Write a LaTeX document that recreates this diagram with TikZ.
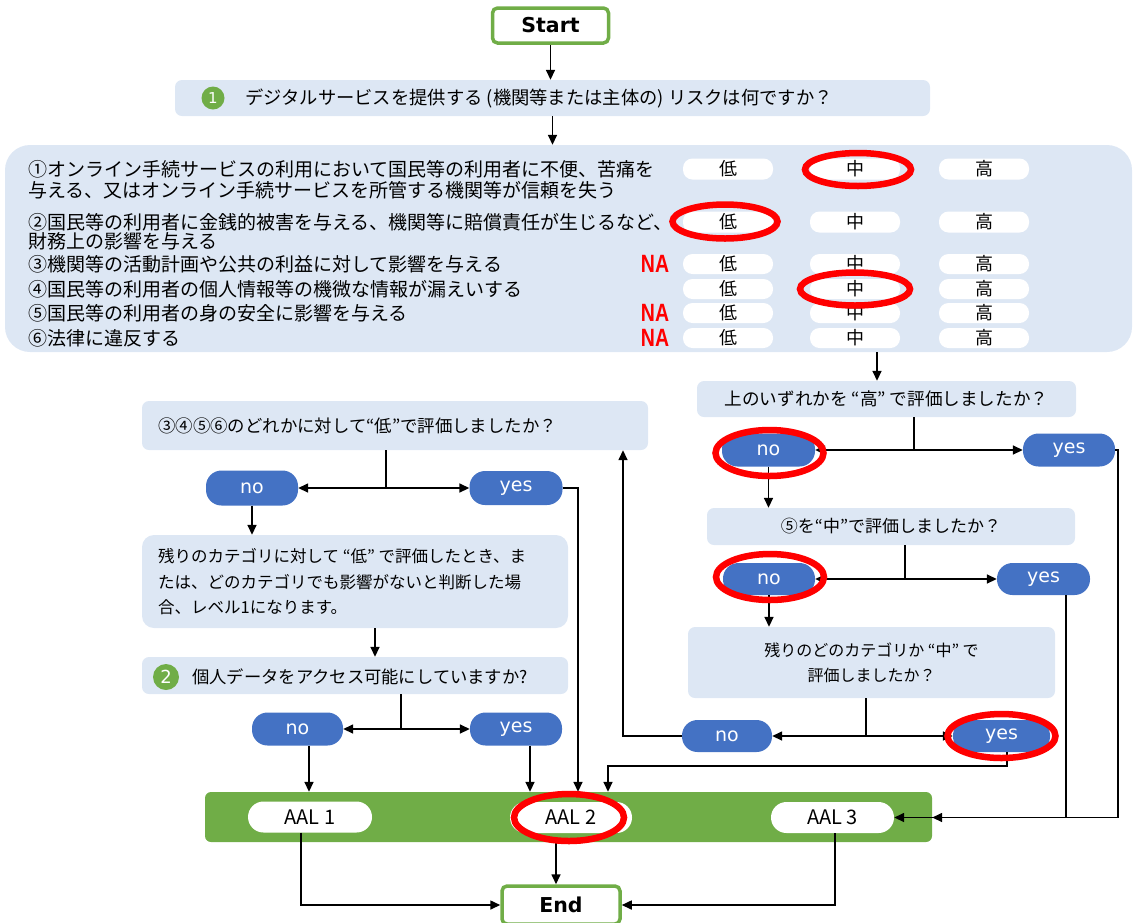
\documentclass[tikz,border=0pt]{standalone}
\usepackage{fontspec}
\usetikzlibrary{arrows.meta,shapes.geometric,calc}
\newfontfamily\jp{Noto Sans CJK JP}
\newfontfamily\dv{DejaVu Sans}
\newfontfamily\lib{Liberation Sans}
\definecolor{lb}{HTML}{DDE7F4}
\definecolor{bl}{HTML}{4472C4}
\definecolor{gr}{HTML}{70AD47}
\definecolor{rd}{HTML}{FF0000}
\begin{document}
\begin{tikzpicture}[x=1pt,y=-1pt,
  box/.style={fill=lb, rounded corners=7pt, inner sep=0pt},
  pill/.style={fill=bl, rounded corners=15.5pt, inner sep=0pt, text=white, font=\dv\fontsize{19}{19}\selectfont},
  wpill/.style={fill=white, rounded corners=9.5pt, inner sep=0pt, minimum width=90pt, font=\jp\fontsize{18}{18}\selectfont},
  aal/.style={fill=white, rounded corners=15.5pt, inner sep=0pt, minimum height=31pt, font=\jp\fontsize{20}{20}\selectfont},
  redell/.style={draw=rd, line width=6.5pt, ellipse, inner sep=0pt},
  term/.style={draw=gr, line width=3.5pt, fill=white, rounded corners=5pt, inner sep=0pt, font=\dv\bfseries\fontsize{20.5}{20.5}\selectfont},
  jt/.style={inner sep=0pt, anchor=west, font=\jp\fontsize{19}{19}\selectfont},
  na/.style={inner sep=0pt, text=rd, font=\lib\bfseries\fontsize{25}{25}\selectfont},
  gcirc/.style={circle, fill=gr, inner sep=0pt, text=white, font=\dv\fontsize{15}{15}\selectfont},
  ln/.style={line width=1.6pt},
  arr/.style={ln, -{Triangle[length=10pt,width=9pt]}},
  darr/.style={ln, {Triangle[length=10pt,width=9pt]}-{Triangle[length=10pt,width=9pt]}}
]
\useasboundingbox (0,0) rectangle (1134,922);

% helper x positions
\coordinate (xa) at (877,0);
\coordinate (xb) at (914,0);
\coordinate (xd) at (905,0);
\coordinate (xf) at (866,0);
\coordinate (xg) at (623,0);
\coordinate (xh) at (1007,0);
\coordinate (xi) at (608,0);
\coordinate (xj) at (386,0);
\coordinate (xl) at (578,0);
\coordinate (xm) at (375,0);
\coordinate (xn) at (401,0);
\coordinate (xo) at (309,0);
\coordinate (xp) at (530,0);
\coordinate (xq) at (1066,0);
\coordinate (xr) at (1118,0);
\coordinate (xs) at (301,0);
\coordinate (xt) at (556,0);
\coordinate (xu) at (835,0);

% Start
\node[term, minimum width=116pt, minimum height=35pt] (start) at (550.5,25.5) {Start};

% Q1
\node[box, minimum width=755pt, minimum height=36pt] (q1) at (552.5,98) {};
\node[gcirc, minimum size=23pt] (n1) at (213,98) {1};
\node[jt, font=\jp\fontsize{18.3}{18.3}\selectfont] (t1) at (245,98) {デジタルサービスを提供する (機関等または主体の) リスクは何ですか？};

% Panel
\node[box, rounded corners=25pt, minimum width=1127pt, minimum height=207pt] (panel) at (568.5,248.5) {};
\node[jt] (r1a) at (28,169) {①オンライン手続サービスの利用において国民等の利用者に不便、苦痛を};
\node[jt] (r1b) at (28,190) {与える、又はオンライン手続サービスを所管する機関等が信頼を失う};
\node[jt] (r2a) at (28,222) {②国民等の利用者に金銭的被害を与える、機関等に賠償責任が生じるなど、};
\node[jt] (r2b) at (28,241) {財務上の影響を与える};
\node[jt] (r3) at (28,264) {③機関等の活動計画や公共の利益に対して影響を与える};
\node[jt] (r4) at (28,289) {④国民等の利用者の個人情報等の機微な情報が漏えいする};
\node[jt] (r5) at (28,313) {⑤国民等の利用者の身の安全に影響を与える};
\node[jt] (r6) at (28,338) {⑥法律に違反する};
\node[na] (na3) at (655,264) {\scalebox{0.78}[1]{NA}};
\node[na] (na5) at (655,313) {\scalebox{0.78}[1]{NA}};
\node[na] (na6) at (655,338) {\scalebox{0.78}[1]{NA}};
\foreach \y/\h/\i in {169/21/1, 222/21/2, 264/20/3, 289/20/4, 313/20/5, 338/20/6} {
  \node[wpill, minimum height=\h pt] (p\i l) at (728,\y) {低};
  \node[wpill, minimum height=\h pt] (p\i m) at (855,\y) {中};
  \node[wpill, minimum height=\h pt] (p\i h) at (984,\y) {高};
}

% right column
\node[box, minimum width=379pt, minimum height=36pt, font=\jp\fontsize{17.6}{17.6}\selectfont] (rq) at (886.5,399) {上のいずれかを “高” で評価しましたか？};
\node[pill, minimum width=93pt, minimum height=33pt] (no1) at (768.5,450) {no};
\node[pill, minimum width=92pt, minimum height=33pt] (yes1) at (1069,450) {yes};
\node[box, minimum width=368pt, minimum height=37pt, font=\jp\fontsize{17}{17}\selectfont] (q5) at (891,526.5) {⑤を“中”で評価しましたか？};
\node[pill, minimum width=92pt, minimum height=32pt] (no2) at (769,579) {no};
\node[pill, minimum width=93pt, minimum height=32pt] (yes2) at (1043.5,579) {yes};
\node[box, minimum width=367pt, minimum height=71pt, align=center, font=\jp\fontsize{16}{25}\selectfont] (box3) at (871.5,662.5) {残りのどのカテゴリか “中” で\\評価しましたか？};
\node[pill, minimum width=90pt, minimum height=32pt] (no3) at (727,736) {no};
\node[pill, minimum width=97pt, minimum height=32pt] (yes3) at (1001.5,736) {yes};

% left column
\node[box, minimum width=506pt, minimum height=49pt] (lq) at (395,425.5) {};
\node[jt, font=\jp\fontsize{17.4}{17.4}\selectfont] (lqt) at (158,425.5) {③④⑤⑥のどれかに対して“低”で評価しましたか？};
\node[pill, minimum width=92pt, minimum height=35pt] (noL) at (252,488) {no};
\node[pill, minimum width=93pt, minimum height=34pt] (yesL) at (516,488) {yes};
\node[box, rounded corners=12pt, minimum width=426pt, minimum height=93pt] (l2) at (355,581.5) {};
\node[jt, font=\jp\fontsize{16.5}{16.5}\selectfont] (l2a) at (158,556) {残りのカテゴリに対して “低” で評価したとき、ま};
\node[jt, font=\jp\fontsize{16.5}{16.5}\selectfont] (l2b) at (158,582) {たは、どのカテゴリでも影響がないと判断した場};
\node[jt, font=\jp\fontsize{16.5}{16.5}\selectfont] (l2c) at (158,607) {合、レベル1になります。};
\node[box, minimum width=426pt, minimum height=37pt] (q2) at (355,675.5) {};
\node[gcirc, minimum size=26pt, font=\dv\fontsize{18}{18}\selectfont] (n2) at (166,677) {2};
\node[jt, font=\jp\fontsize{17.3}{17.3}\selectfont] (q2t) at (192,677) {個人データをアクセス可能にしていますか?};
\node[pill, minimum width=91pt, minimum height=33pt] (no4) at (297.5,729) {no};
\node[pill, minimum width=92pt, minimum height=33pt] (yes4) at (516,729) {yes};

% AAL band
\node[fill=gr, rounded corners=6pt, inner sep=0pt, minimum width=727pt, minimum height=50pt] (band) at (568.5,817) {};
\node[aal, minimum width=124pt] (aal1) at (310,817) {AAL 1};
\node[aal, minimum width=122pt] (aal2) at (571,817.5) {AAL 2};
\node[aal, minimum width=123pt] (aal3) at (832.5,817.5) {AAL 3};

% End
\node[term, minimum width=118pt, minimum height=38pt] (end) at (561,905) {End};

% connectors
\draw[arr] (start.south) -- (start.south |- q1.north);
\draw[arr] (q1.south) -- (q1.south |- panel.north);
\draw[arr] (panel.south -| xa) -- (rq.north -| xa);
\draw[ln] (rq.south -| xb) -- (xb |- no1.east);
\draw[darr] (no1.east) -- (yes1.west);
\draw[arr] (no1.south) -- (no1.south |- q5.north);
\draw[ln] (q5.south -| xd) -- (xd |- no2.east);
\draw[darr] (no2.east) -- (yes2.west);
\draw[arr] (no2.south) -- (no2.south |- box3.north);
\draw[ln] (box3.south -| xf) -- (xf |- no3.east);
\draw[darr] (no3.east) -- (yes3.west);
\draw[arr] (no3.west) -| (lq.south -| xg);
\draw[arr] (yes3.south -| xh) -- ++(0,14) -| (band.north -| xi);
\draw[arr] (yes2.south -| xq) |- (band.east |- aal3.east);
\draw[arr] (yes1.east) -- (xr |- yes1.east) -- (xr |- aal3.east) -- (aal3.east);

\draw[ln] (lq.south -| xj) -- (xj |- noL.east);
\draw[darr] (noL.east) -- (yesL.west);
\draw[arr] (noL.south) -- (noL.south |- l2.north);
\draw[arr] (yesL.east) -| (band.north -| xl);
\draw[arr] (l2.south -| xm) -- (q2.north -| xm);
\draw[ln] (q2.south -| xn) -- (xn |- no4.east);
\draw[darr] (no4.east) -- (yes4.west);
\draw[arr] (no4.south -| xo) -- (band.north -| xo);
\draw[arr] (yes4.south -| xp) -- (band.north -| xp);

\draw[arr] (aal1.south -| xs) |- (end.west);
\draw[arr] (band.south -| xt) -- (end.north -| xt);
\draw[arr] (aal3.south -| xu) |- (end.east);

% red highlights
\node[redell, minimum width=106pt, minimum height=33pt] (e1) at (858,169.5) {};
\node[redell, minimum width=105pt, minimum height=34pt] (e2) at (725,221.5) {};
\node[redell, minimum width=110pt, minimum height=33pt] (e3) at (855,289) {};
\node[redell, minimum width=108pt, minimum height=46pt] (e4) at (769.5,453) {};
\node[redell, minimum width=108pt, minimum height=46pt] (e5) at (770,577) {};
\node[redell, minimum width=108pt, minimum height=44pt] (e6) at (1001.5,736) {};
\node[redell, minimum width=110pt, minimum height=47pt] (e7) at (569,817.5) {};
\end{tikzpicture}
\end{document}
